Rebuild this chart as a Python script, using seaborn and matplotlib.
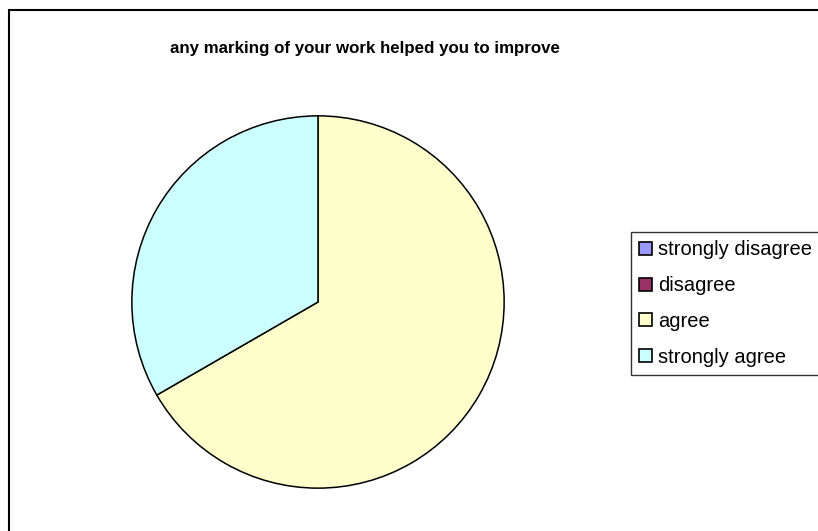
import matplotlib
matplotlib.use("Agg")
import matplotlib.pyplot as plt
from matplotlib.patches import Rectangle
import seaborn as sns

# Survey responses
categories = ["strongly disagree", "disagree", "agree", "strongly agree"]
counts = [0, 0, 2, 1]
colors = ["#9999FF", "#993366", "#FFFFCC", "#CCFFFF"]
title = "any marking of your work helped you to improve"

sns.set_theme(style="white")
plt.rcParams["font.family"] = ["Liberation Sans", "DejaVu Sans"]

W, H = 818, 531
fig = plt.figure(figsize=(W / 100, H / 100), dpi=100)
fig.patch.set_facecolor("white")

# Outer chart-area frame
fig.patches.append(Rectangle((9 / W, -0.05), 1.05, 1 - 10 / H + 0.05,
                             transform=fig.transFigure, fill=False,
                             edgecolor="black", linewidth=1.5))

# Pie axes: centre (318, 302) px, radius 188 px
cx, cy, r = 318, 302, 188
ax = fig.add_axes([(cx - r) / W, (H - cy - r) / H, 2 * r / W, 2 * r / H])
wedges, _ = ax.pie(counts, colors=colors, startangle=90, counterclock=False,
                   radius=1.0,
                   wedgeprops=dict(edgecolor="black", linewidth=1.1))
ax.set_xlim(-1.01, 1.01)
ax.set_ylim(-1.01, 1.01)
ax.set_aspect("equal")
ax.axis("off")

fig.text(365 / W, 1 - 48 / H, title, ha="center", va="center",
         fontsize=12.2, fontweight="bold", color="black")

leg = fig.legend(wedges, categories, loc="upper left",
                 bbox_to_anchor=(631 / W, 1 - 232 / H),
                 fontsize=14.5, frameon=True, fancybox=False,
                 handlelength=0.62, handleheight=0.62, handletextpad=0.3,
                 labelspacing=0.83, borderpad=0.42, borderaxespad=0,
                 labelcolor="black")
leg.get_frame().set_edgecolor("black")
leg.get_frame().set_linewidth(1.0)
for h in leg.legend_handles:
    h.set_edgecolor("black")
    h.set_linewidth(1.2)

fig.savefig("out.png", dpi=100)
